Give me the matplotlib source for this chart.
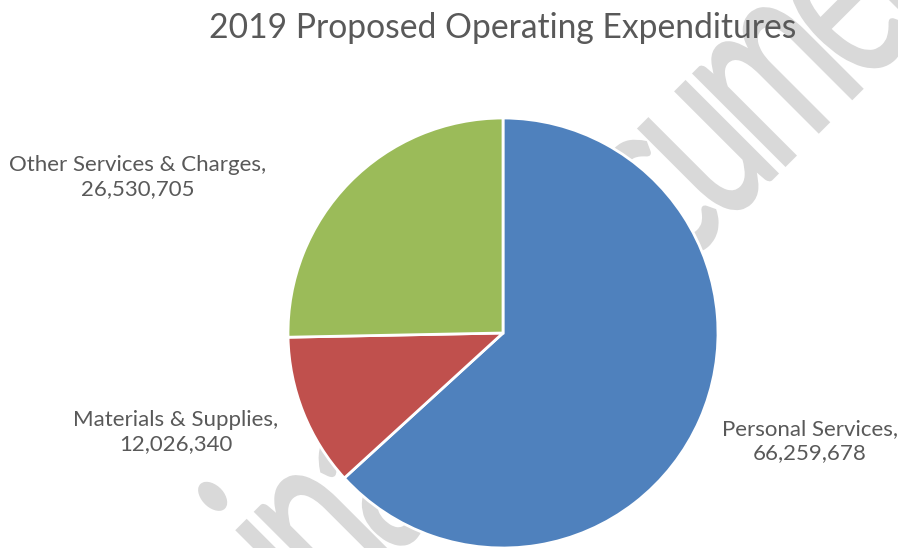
import matplotlib
matplotlib.use("Agg")
import matplotlib.pyplot as plt
from matplotlib.font_manager import FontProperties
from matplotlib.textpath import TextPath
from matplotlib.path import Path
from matplotlib.patches import PathPatch
from matplotlib.transforms import Affine2D

plt.rcParams['font.family'] = ['Lato', 'DejaVu Sans']

# expenditure categories, in drawing order (clockwise from 12 o'clock)
categories = ["Personal Services", "Materials & Supplies", "Other Services & Charges"]
amounts = [66259678, 12026340, 26530705]
colors = ["#4F81BD", "#C0504D", "#9BBB59"]

title = "2019 Proposed Operating Expenditures"
watermark = "Preliminary Document"
text_color = "#595959"

W, H = 898, 548
fig = plt.figure(figsize=(W / 100, H / 100), dpi=100)
ax = fig.add_axes([0, 0, 1, 1])

# pie laid out in pixel units, y measured up from the bottom edge
ax.pie(amounts, colors=colors, startangle=90, counterclock=False,
       center=(503, 215), radius=215,
       wedgeprops=dict(edgecolor="white", linewidth=2.0, zorder=2))

ax.set_xlim(0, W)
ax.set_ylim(0, H)
ax.set_aspect("auto")
ax.axis("off")

# data label anchors (pixel coords, top-down)
label_pos = {
    "Personal Services": (810, 441),
    "Materials & Supplies": (176, 432),
    "Other Services & Charges": (138, 177),
}
for name, amt in zip(categories, amounts):
    x, y = label_pos[name]
    ax.text(x, H - y, f"{name},\n{amt:,}", ha="center", va="center",
            fontsize=16, color=text_color, linespacing=1.25, zorder=3)

ax.text(503, H - 38, title, ha="center", va="baseline",
        fontsize=24.2, color=text_color, zorder=3)


def tracked_path(s, prop, track):
    """Glyph outlines of s at size 1, with each advance shortened by track."""
    parts = []
    centers = []
    for i, ch in enumerate(s):
        if ch == " ":
            centers.append(None)
            continue
        glyph = TextPath((0, 0), ch, size=1, prop=prop).get_extents()
        x0 = (TextPath((0, 0), s[:i + 1], size=1, prop=prop).get_extents().x1
              - glyph.x1 - i * track)
        parts.append(TextPath((x0, 0), ch, size=1, prop=prop))
        centers.append(x0 + (glyph.x0 + glyph.x1) / 2)
    return Path.make_compound_path(*parts), centers


# watermark: tall, tightly set outline of the text, pinned on the "u"
fp = FontProperties(family="Lato")
wm_path, wm_centers = tracked_path(watermark, fp, 0.07)
u_cx = wm_centers[watermark.index("u")]
u_cy = TextPath((0, 0), "x", size=1, prop=fp).get_extents().height / 2
em_w, em_h = 158, 257
tr = (Affine2D().translate(-u_cx, -u_cy).scale(em_w, em_h)
      .rotate_deg(45).translate(708, H - 151))
ax.add_patch(PathPatch(tr.transform_path(wm_path), facecolor="#d9d9d9",
                       edgecolor="#d9d9d9", linewidth=1.5, zorder=0))

fig.savefig("out.png", dpi=100)
